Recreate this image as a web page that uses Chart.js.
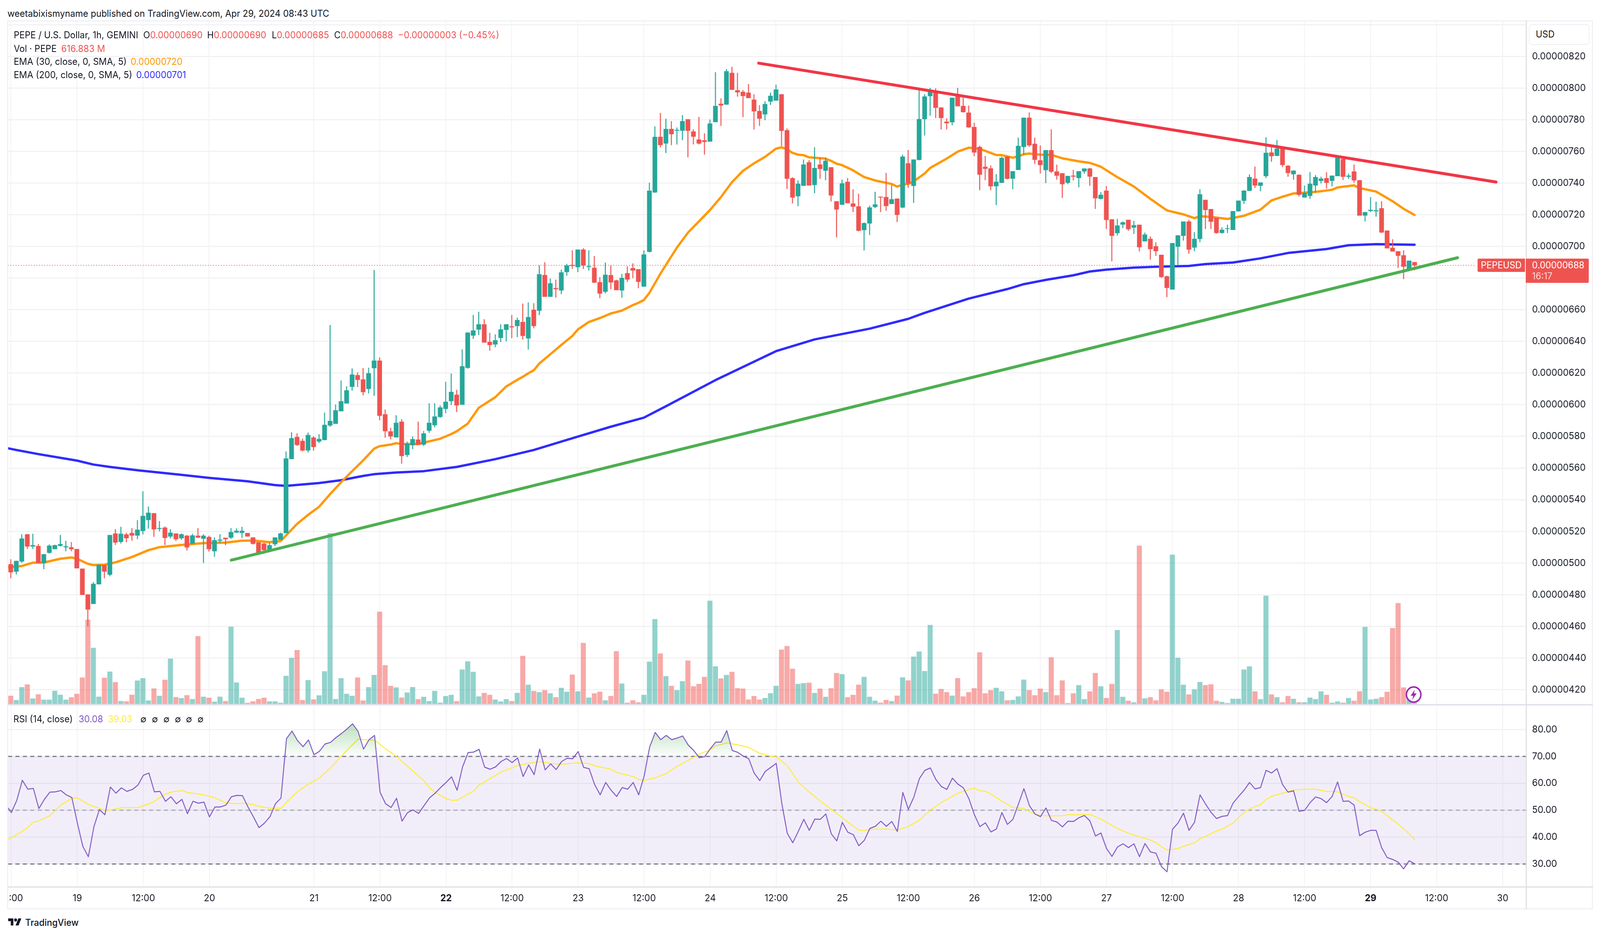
<!DOCTYPE html>
<html>
<head>
<meta charset="utf-8">
<title>PEPE / U.S. Dollar</title>
<script src="https://cdn.jsdelivr.net/npm/chart.js@4/dist/chart.umd.min.js"></script>
<style>
    html, body { margin: 0; padding: 0; background: #fff; overflow: hidden; }
    #stage { position: absolute; left: 0; top: 0; width: 4310px; height: 2396px; overflow: hidden; transform-origin: 0 0;
             font-family: Inter, sans-serif; color: #131722; font-size: 24px; background: #fff; }
    canvas { position: absolute; left: 20px; }
    #price-chart { top: 53px; }
    #rsi-chart { top: 1804px; }
    .txt { position: absolute; white-space: pre; line-height: 34px; }
    .frame { position: absolute; background: #f0f0f6; }
    .red { color: #ef5350; }
    .orange { color: #ff9800; }
    .blue { color: #2e2aff; }
    .purple { color: #7e57c2; }
    .yellow { color: #ffeb3b; }
    .tag { position: absolute; background: #ef5350; color: #fff; }
</style>
</head>
<body>
<div id="stage">
<canvas id="price-chart" width="4271" height="1751"></canvas>
<canvas id="rsi-chart" width="4271" height="522"></canvas>

<div class="frame" style="left:20px;top:52px;width:4271px;height:3px"></div>
<div class="frame" style="left:19px;top:52px;width:3px;height:2275px"></div>
<div class="frame" style="left:4288px;top:52px;width:3px;height:2275px"></div>
<div class="frame" style="left:20px;top:2325px;width:4271px;height:3px"></div>
<div class="frame" style="left:20px;top:1802px;width:4271px;height:4px;background:#e0e3eb"></div>
<div class="frame" style="left:20px;top:2269px;width:4271px;height:3px;background:#e0e0e3"></div>
<div class="frame" style="left:4110px;top:52px;width:3px;height:2275px;background:#e0e0e3"></div>

<div class="txt" style="left:20px;top:18px">weetabixismyname published on TradingView.com, Apr 29, 2024 08:43 UTC</div>
<div class="txt" style="left:37px;top:73px">PEPE / U.S. Dollar, 1h, GEMINI</div>
<div class="txt" style="left:386px;top:73px">O<span class="red">0.00000690</span></div>
<div class="txt" style="left:558px;top:73px">H<span class="red">0.00000690</span></div>
<div class="txt" style="left:732px;top:73px">L<span class="red">0.00000685</span></div>
<div class="txt" style="left:900px;top:73px">C<span class="red">0.00000688</span></div>
<div class="txt red" style="left:1072px;top:73px">−0.00000003 (−0.45%)</div>
<div class="txt" style="left:37px;top:108px">Vol · PEPE</div>
<div class="txt red" style="left:165px;top:108px">616.883 M</div>
<div class="txt" style="left:37px;top:141px">EMA (30, close, 0, SMA, 5)</div>
<div class="txt orange" style="left:352px;top:141px">0.00000720</div>
<div class="txt" style="left:37px;top:175px">EMA (200, close, 0, SMA, 5)</div>
<div class="txt blue" style="left:367px;top:175px">0.00000701</div>

<div style="position:absolute;left:4118px;top:62px;width:160px;height:49px;border:2px solid #eeeef4;border-radius:9px;background:#fff"></div>
<div class="txt" style="left:4137px;top:71px">USD</div>

<div class="tag" style="left:3980px;top:662px;width:128px;height:34px;line-height:34px;text-align:center;border-radius:4px 0 0 4px">PEPEUSD</div>
<div class="tag" style="left:4110px;top:662px;width:170px;height:62px;border-radius:0 4px 4px 0"></div>
<div class="txt" style="left:4127px;top:662px;color:#fff">0.00000688</div>
<div class="txt" style="left:4127px;top:690px;color:#ffd6d5">16:17</div>

<div class="txt" style="left:36px;top:1824px">RSI (14, close)</div>
<div class="txt purple" style="left:212px;top:1824px">30.08</div>
<div class="txt yellow" style="left:291px;top:1824px">39.03</div>
<div class="txt" style="left:378px;top:1824px">∅</div>
<div class="txt" style="left:409px;top:1824px">∅</div>
<div class="txt" style="left:440px;top:1824px">∅</div>
<div class="txt" style="left:471px;top:1824px">∅</div>
<div class="txt" style="left:501px;top:1824px">∅</div>
<div class="txt" style="left:532px;top:1824px">∅</div>

<svg style="position:absolute;left:3786px;top:1756px" width="44" height="44" viewBox="0 0 44 44">
    <circle cx="22" cy="22" r="19.5" fill="#fff" stroke="#9c27b0" stroke-width="4"/>
    <path d="M25 9 L14 25 H21 L18 36 L30 19 H23 Z" fill="#9c27b0"/>
</svg>

<svg style="position:absolute;left:20px;top:2347px" width="40" height="28" viewBox="0 0 36 28">
    <path fill="#131722" d="M14 22H7V11H0V4h14v18zM28 22h-8l7.5-18h8L28 22z"/>
    <circle fill="#131722" cx="20" cy="8" r="4"/>
</svg>
<div class="txt" style="left:68px;top:2345px;font-weight:500">TradingView</div>
</div>

<script>
// Prices are in units of 0.00000001, volumes in billions. First entry is the bar before 18th 12:00.
const firstBar = -1;

const opens = [
    497,499.2,494.6,501,518.1,510.5,510.7,500.1,506.5,508.8,
    510.9,510,509.9,508.8,496.4,480.1,474.2,486.6,498.7,492.7,
    518.6,513.4,518,518.9,517.4,520.3,527.2,531.4,521.6,522.3,
    516.8,518.6,515.7,517.2,512.2,517.2,515.4,516.4,507.5,514.2,
    515.9,516.1,519.3,519.1,518.9,516.1,513,512.2,507.6,511.9,
    514.7,518.9,565.7,579.6,577.1,571.2,579.2,576.8,577.7,586.9,
    588,595.9,600.8,611.3,618.6,615.9,610,623.1,627.8,593.9,
    583.1,579.4,589.2,568.3,574.5,577.9,574.8,583.6,587.1,592.3,
    597.4,602.3,606.2,600,623.3,643.7,647.5,650.7,639.6,638.1,
    642.2,647.3,649.4,649.7,652.2,641.9,659.9,659.4,681.8,668.2,
    673.6,672.2,683.8,688.2,686.9,697.9,687,686.4,677.3,671.4,
    681.8,678.4,672.2,683,686.2,685.5,674.6,696.6,734.1,769.1,
    765,774.1,773.1,773.1,780.2,772.5,767.4,766.9,766.2,778.5,
    790,789.6,809.5,798.5,797.5,797,792.6,785.4,783.4,791.5,
    792.1,796,773.3,743,731.7,738.3,753,738.8,751.6,747.8,
    749.9,728.4,726.3,740.7,727,725.2,710.3,714.5,724.9,731.3,
    731.1,726.8,730.1,724.6,752.4,738.2,754.6,780.4,794.9,797.8,
    787.6,778.7,778.4,794.6,788.6,784.4,775.3,762.7,750.2,749.2,
    738,740.2,756.6,742.8,748.3,762.8,781.2,764.7,754.3,748.2,
    760.7,747.2,746.1,740.2,744.6,743.2,747.4,749.1,743.7,730.1,
    735.1,717,708.4,713.8,716.7,711.9,713.6,703.2,704.7,700,
    694.6,681,672.8,699.8,706.7,715.6,699.3,704.7,729.3,723.5,
    717.9,708.5,711,710.4,722.2,728.8,735.1,742.7,738.3,744.4,
    759.2,757.2,762.2,750.8,745.6,745.1,730.9,731.9,738.5,741.4,
    743,741.4,744.4,755.1,744,747.2,741.7,719.5,722.4,722.2,
    724,709.9,699,696.8,694.3,685.3,690
];
const highs = [
    503,502.3,501.3,518.1,518.1,518.4,511.9,505.5,511.7,511.5,
    517.6,513.9,513.2,508.8,496.4,480.1,487.9,499.2,498.7,517.6,
    521.3,522.8,519.1,522,527,545.2,535.6,531.4,526.4,523,
    521.3,518.6,518.6,517.6,518.4,522,518.1,517.2,516.1,518.1,
    515.9,522,521.8,522.8,518.9,516.1,513,512.7,512.8,516.1,
    519.1,570.4,582.5,581.9,578.5,582.3,580,581.3,594.9,650.2,
    600,615.2,611.5,622.8,620.3,623.1,623.3,685,629.8,596.9,
    585.3,593.3,590.8,576.6,579.9,589.2,583.3,600.8,600.8,599.4,
    614.4,619.6,609.3,634.9,645.5,656.6,658.6,653.9,645.3,644.3,
    650.7,650.7,656.6,654.9,663.8,664.5,664,687.9,689.9,679.6,
    678.9,685.3,688.9,697.4,697.9,698.7,697.4,693.8,680.5,689.7,
    687.9,678.9,682.5,687.4,689.2,685.5,697.4,740.1,775.7,784.2,
    780.5,779,775,782.7,780.2,773.9,781.7,771.3,780,809.9,
    793.4,811.9,813.3,809.5,798.6,802.4,796,789.1,791.6,797,
    802,796,774.4,743.5,741.6,754.8,754.3,762.5,755.9,755.9,
    749.9,728.4,742,743.1,735.9,733.1,715,725.6,734.4,731.3,
    746.3,738.5,730.1,757.8,760.8,754.8,798.9,796,800,799.7,
    787.8,780.7,793.8,800,793.9,788.8,778,763.4,757,751,
    745.5,756.5,756.6,747.4,768.6,781.2,784.5,768.6,763.7,760.7,
    773.8,751.5,746.1,744.4,748.3,747.4,749.1,749.5,743.7,734.2,
    738,717,717.3,715.6,716.7,716,713.6,708.6,706.2,702.5,
    694.6,681.4,702,706.9,715.6,716.7,708.9,736,729.3,723.5,
    717.9,711.9,713.6,722.2,728.8,735.4,745.4,750.3,740.3,768.8,
    762.5,767.1,763,751.3,747.8,745.4,738.3,746.9,744.9,743.9,
    746.7,744.6,756.2,755.9,745.9,751.6,741.7,721.7,731,728.1,
    728.4,709.9,704.4,697,697.5,690.9,690
];
const lows = [
    495,490.4,492.9,500.2,509,508.9,500.1,496.2,506,508.8,
    510.5,507.5,507.5,496.7,479.9,460.2,474.2,486.6,490.4,491.7,
    511.5,512.4,513.2,514.2,515.1,518.1,521.8,516.6,520.1,511.5,
    515.7,514,514.7,508,512.2,515.9,500.1,507.3,504,512.7,
    511.3,515.3,519.1,515.9,516.8,511.7,506.5,506,507.4,510.7,
    514.7,518.9,565.7,574,570.6,569.9,571,575.8,577.6,586.1,
    588,595.9,600.8,609,611.3,606,607.2,605.7,590.2,579.2,
    578.2,579.4,562.8,567,572,574.8,574,582.3,585.8,591.8,
    594.7,599.8,595.4,600,622.8,641.6,644,639.3,634.2,636.4,
    639.6,640.1,642.1,642.7,641.1,634.9,648.3,656.6,668.2,668.2,
    667.7,669.9,681.5,685.9,683.8,685.8,684.8,677.1,667.3,670.4,
    673,672.4,667.7,677.6,680,673.6,674.6,696.2,733.9,762.5,
    759,764,764.4,767.1,756.3,764.4,764.4,758,766.2,778.5,
    776.1,789.4,798.9,794.6,781.7,793.7,773.9,776.1,779.7,789.4,
    792.1,763.3,736.3,727.2,725.5,738.3,738.5,733.6,742.7,741.8,
    728.4,705.7,726.3,727.3,721.7,709.5,697.5,707.2,724.2,721.7,
    722.5,726.8,715.4,724.2,737,727.5,754.4,770.1,782.6,781.1,
    773.9,773.9,776.5,788.5,784.6,775,757,735.5,741.8,735.5,
    726.1,740,742.4,736.1,748.3,758.1,762.9,752.1,746.1,740,
    746.4,742.2,730.7,739.3,741.7,737.3,746,738.3,723.7,729.7,
    711,690.6,706.9,711.6,709.9,707.9,696.8,703.2,691.7,694.1,
    680.2,668,672.8,688,703.7,695.4,697,702.7,711,711,
    708,708.2,708.5,710.4,722,726.9,735,736.9,734.9,743.2,
    753.5,757,750.1,744,742.2,731.5,730.9,730,734.2,739.8,
    736.5,738,744.4,741.9,742.7,740.3,719.5,715.8,721.7,718.8,
    708.5,698.8,696.8,686.4,679.4,685.3,685
];
const closes = [
    499,494.2,501.3,515.4,510.5,511.2,500.1,505.5,510.9,511.2,
    511.9,510.5,508.8,496.7,479.9,470.7,486.8,498.7,494.6,517.6,
    513,518.4,515.7,517.4,521,529.7,531.7,521.3,522,515.9,
    519.1,515.1,518.1,509.9,517.4,516.1,517.2,508.8,514.4,514.7,
    515.1,519.5,520.3,520.3,516.8,512.2,506.5,508.2,511.2,516.1,
    518.6,566,578.8,574.6,571.1,580.8,573.3,578.3,587.2,589.7,
    596.4,602.1,609,619,615.7,608,619.8,627.8,593,583.3,
    580,588.5,567.6,575.4,578.2,574.8,581.8,588.5,592.5,598.2,
    601.8,608,599.6,624.2,645.5,646.8,650.7,639.3,637.7,640.6,
    647.5,650.7,648.9,653.4,643.5,655.3,649.7,682.3,668.2,676.6,
    673,683.5,687.9,687.7,697.9,687.9,687.4,677.1,670.2,682,
    677.3,672.4,680,679.1,684.8,677.6,694.8,735.1,769.1,764,
    774.1,770.9,773.5,779,773,769.3,765,766,777.5,788.6,
    789,810.5,798.9,797.3,795,793.7,785.3,780.7,789.8,795,
    799,773,742.8,730.9,739.5,751.6,738.5,749.4,748.9,754,
    732.2,723.3,739.7,727.3,725.1,709.9,714.6,724.5,726.4,730.9,
    725.5,729.7,719.9,756.6,739.8,754.8,780.3,794.6,798.3,787.5,
    781.1,777.8,793.8,788.5,784.8,775.2,759.3,745.3,749,738,
    740.7,755.8,742.7,747.4,763.4,781.2,763.8,754.7,751.4,760.7,
    747.2,744.7,739.3,744.4,744.1,747.4,749.1,744.1,730.4,732.5,
    716.7,706.7,713.1,715.1,710.9,713.3,699.5,707.4,698.3,697,
    680.7,673.8,702,706.9,715.6,698,704.7,732.8,723,715.6,
    708.5,710.4,711.3,722.2,728.8,735.1,743.7,738.5,740.3,759,
    757,761.7,751.4,746.4,747.8,732.6,733.6,739.5,743.7,742.7,
    740.2,744.6,756,744,744.6,741.7,719.5,721.5,723,722.7,
    708.8,698.8,696.8,694.1,687.2,690.9,688
];
const volumes = [
    9,6.2,2.9,12.8,14.9,4.1,7.3,3.2,3.2,10,
    7,3.2,5,7.7,20.2,64.6,43,5.5,20,24.8,
    16.7,2.2,1.9,7,17.9,19.7,2.6,11.8,6.2,18.5,
    34.7,5.2,4.4,6.7,3.7,52,5.5,4.7,1.7,5.5,
    2.2,59.2,16.4,4.7,0.8,1.9,3.7,4.7,1.9,1.9,
    0.8,21.5,35.3,41.3,2.9,18.2,3.4,6.5,25,131,
    3.7,19.7,7.7,6.2,20.2,2.6,12.8,22.2,70.8,29.7,
    13.8,12.6,4.8,8.7,12.9,3.6,5.4,2.1,9.9,0.9,
    6,6.9,2.1,26.4,32.7,24.6,5.7,8.4,6.9,3.3,
    1.8,3.6,2.1,8.4,36.9,14.7,9.9,9,10.5,8.1,
    5.1,12.3,9.3,22.5,9.6,46.8,4.8,8.1,9.3,2.7,
    6,40.5,15.6,0.9,2.7,1.2,6.9,32.4,65.1,38.7,
    21.3,13.8,10.5,17.4,33.3,13.5,15.3,20.7,79.2,28.8,
    19.5,22.2,24.6,12,11.7,3.3,6,3.3,4.5,8.1,
    13.8,41.7,44.4,27,15.3,15.9,16.2,8.4,11.7,5.4,
    12,23.7,22.8,5.1,6.9,14.7,20.7,5.4,2.4,0.9,
    3,2.1,6.3,20.4,18,36.3,40.2,25.2,60.6,7.8,
    11.4,9,6.3,19.8,5.7,9,12,39.6,8.1,10.5,
    12.3,9.6,2.7,3,5.7,18.6,10.5,6.6,11.7,9,
    35.7,6.6,18,0.6,8.1,14.4,3.6,9.6,23.7,13.5,
    4.5,15.3,56.7,5.4,2.4,1.2,121.5,4.2,5.1,2.7,
    11.1,9.3,114.6,35.4,14.7,7.2,11.1,16.8,14.4,15,
    2.4,1.5,0.6,3.9,3.9,26.4,28.8,9.6,3.6,83.1,
    7.2,5.1,1.2,6,3.9,1.2,1.2,4.8,3.6,9.6,
    6.9,0.9,1.8,0.9,4.5,2.4,9.6,59.1,3.3,3.9,
    5.1,9.3,58.2,77.4,12.6,3.6,0.617
];
const rsi = [
    52,49.1,53.7,61.1,57.8,58.1,50.6,54,56.7,56.8,
    57.3,55.7,54.7,45.2,36.5,32.7,43.8,50.2,48.3,58.6,
    56.3,58.3,57,57.7,59.3,63,63.8,56.8,57,53.3,
    55,52.4,54,48.7,53.3,52.6,53,47.5,51.2,51.2,
    51.9,55,55.5,55.4,51.2,47.5,43.5,45.2,47.6,52.4,
    54.5,76.6,79.4,75.9,73.6,76.1,70.6,71.9,74.6,75.2,
    77,78.5,80.2,82.1,79.3,72.7,76.2,77.8,56.7,52.4,
    51,54.4,45.9,49.1,50.1,48.8,51.7,54.6,56.3,58.4,
    60.3,62.4,57.4,66.1,71.4,71.6,72.6,66,65.2,66.1,
    68.1,69.2,67.7,69.4,62.5,66.8,63.2,72.7,65,67.2,
    65.1,68.1,69.3,69.1,71.8,65.9,65.4,59.5,55.7,60.3,
    57.4,55.1,58.4,57.8,60.3,55.7,62.8,73.5,78.9,76.2,
    77.8,76.2,76.8,77.6,74.2,72.2,69.5,69.9,72.8,75.3,
    75.3,79.6,72.2,71.5,70.1,69.1,63.7,61,64.4,65.9,
    67.4,52.6,41.4,37.9,42.1,46.6,42.5,46.7,46.6,48.6,
    41.2,38.6,45.5,41.8,40.9,36.8,38.8,43.2,44,45.9,
    44,45.8,42.1,56.6,50.3,54.9,61.7,64.8,65.7,61.4,
    58.8,57.7,61.9,59.7,58.3,54.3,48.3,43.9,45.3,41.9,
    43,49.1,44.7,46.6,52.3,58,51.7,48.6,47.6,50.8,
    46.2,45.6,43.8,45.9,45.8,47.2,48,46,40.4,41.5,
    35.8,32.8,36.3,37.5,36.1,37.5,32.7,37.6,34.5,34,
    29,27.1,42.9,45.2,48.9,42.5,45.5,55.7,52.3,49.2,
    46.9,47.7,48,52.6,55.1,57.4,60.3,57.9,58.4,64.8,
    63.8,65.4,59.5,56.7,57.2,49.6,49.9,52.8,54.9,54.3,
    52.8,55.1,60.5,53.3,53.4,51.9,40.5,41.8,42.5,42.5,
    36.1,32.4,31.7,30.7,28.2,31.2,30.08
];

// Averages were read at their turning points, each bar list goes with the values below it
const ema30Bars = [-1,2,4,6,9,11,12,14,15,17,19,22,25,27,31,35,39,42,44,47,49,50,52,54,56,58,60,62,64,66,67,69,70,71,74,75,78,80,81,83,85,88,90,92,93,94,95,96,97,100,102,103,105,107,109,111,113,114,115,116,118,121,123,127,129,131,133,135,137,139,140,141,142,143,144,145,148,149,150,151,153,155,157,160,161,162,163,164,166,167,170,172,174,176,177,179,180,182,183,184,185,187,189,191,194,196,198,201,204,207,210,213,215,216,218,221,224,227,229,231,233,237,240,241,244,245,248,251,253,255];
const ema30 = [497.1,498.1,500.2,500.3,502.7,503.5,502.7,499.5,498.7,498.9,500.4,503.8,508.1,510,511.4,512.6,512.9,514.1,514.2,513.2,513.8,517.4,524.7,530.4,535.5,543.5,551,558,564.8,572.2,573.8,574.8,575.7,575.1,575.1,576,578.5,581.4,583.2,588,598,604.7,611.5,615.7,617.6,619.8,621.7,626,628.9,637.7,643.4,647.5,652.2,654.7,657.6,659.4,662.9,664.3,666.1,670.6,682.7,699.2,708.6,722.9,731.1,740.5,747.7,752.4,756.5,761.7,762.5,761.4,759,757.9,757.6,756.2,755.4,754,752.2,751.3,748,743.8,741.6,739.4,737.7,739,739.4,741,746,749.5,755.4,759.8,762.3,761.6,760.3,757.7,757.6,756,756.8,758.2,758.6,757.9,757.8,755.6,753.7,752.7,750.3,743.7,737.8,730,722.7,720.2,717.8,719,718.6,717.3,719.3,723.2,729,731.3,733.4,734.4,735.7,737.2,738.5,736.8,734.6,728.5,723.7,719.8];

const ema200Bars = [-1,1,5,12,15,18,23,31,36,43,48,50,56,60,64,66,70,75,81,88,95,102,109,115,119,128,139,146,156,163,166,174,181,184,188,193,196,199,204,208,214,217,222,227,232,239,243,248,255];
const ema200 = [572.8,571.4,568.8,564.7,562.2,560.7,558.6,555.7,553.8,551.6,549.2,548.7,550.5,552.3,555,556.1,557.2,558,560.7,565.6,571.4,578.8,586.1,591.8,599,615.5,633.8,641.2,648,654.2,658,667,673,676.1,678.8,681.7,684.1,685.3,686.6,687.1,687.6,688.8,689.8,692.4,695.8,698.3,700.7,701.4,701];

const rsiMaBars = [-1,1,3,4,5,7,9,11,12,14,17,18,20,23,25,26,28,29,31,32,35,37,39,41,42,44,45,47,49,50,52,54,56,58,60,63,65,66,68,70,73,75,76,77,79,80,81,84,85,87,89,92,94,96,98,100,103,105,106,109,110,113,114,115,117,119,121,123,125,127,128,130,132,134,136,138,139,141,143,144,145,147,149,151,153,154,155,156,159,161,163,165,167,169,172,174,175,176,177,178,180,182,184,185,186,187,189,191,192,194,196,198,199,201,203,205,207,208,209,210,212,213,215,216,218,219,220,222,223,224,225,226,227,228,229,231,233,235,237,239,241,243,244,245,247,248,249,251,252,254,255];
const rsiMa = [38.7,40.9,43.5,45.6,46,47.9,51.9,54.4,54.6,52.1,50,50.1,50.9,51,52.3,53.3,56,56.7,57.3,56.6,55.7,54.6,52.7,52.4,52.6,52.1,51.4,50.7,50.7,52.9,56.9,59.7,62,65.7,70.2,76.4,76,76.1,72.8,69.9,64.5,60.9,58.3,56.7,54.3,53.7,53.7,57.1,59.4,61.7,64.2,66.6,67.4,68.1,67.4,67.1,67.6,67.3,66.5,65.2,64,62.5,61.4,61.1,62,63.6,66.3,68.5,70.8,72.5,73.9,75,74.3,73.3,71.1,70.1,69.8,66.5,60.5,58.6,56.7,53.4,50.3,47.2,44,42.6,42.4,42.9,43,42.6,43.9,46.3,50,52.9,56.3,57.7,58.2,57.2,57,56,53.4,51,50.6,49.5,48.5,48,47.9,47.9,48.3,48.3,48.4,46.7,45.5,43.2,41.4,40.1,38.9,37.9,36.4,35.2,35.7,36.6,37.9,39.4,41.2,42.3,42.9,45.2,47.2,49.2,50.4,51.4,52.1,54,55.1,56.3,57.5,57.8,57.8,57,56.8,55.1,54.6,53.2,50.9,50.4,49.5,46.4,44.9,41.2,39.03];

// Trend lines drawn on the chart, start and end only
const redTrendBars = [135.85, 269.8];
const redTrend = [815.7, 740.6];
const greenTrendBars = [40.05, 262.8];
const greenTrend = [501.8, 692.8];

const lastPrice = 688;
const lastPriceBars = [-1, 266];

const tickBars = [0,12,24,36,55,67,79,91,103,115,127,139,151,163,175,187,199,211,223,235,247,259,271];
const tickLabels = ['12:00','19','12:00','20','21','12:00','22','12:00','23','12:00','24','12:00','25','12:00','26','12:00','27','12:00','28','12:00','29','12:00','30'];
const boldLabels = ['22','29'];
const priceTicks = [420,440,460,480,500,520,540,560,580,600,620,640,660,680,700,720,740,760,780,800,820,840];
const rsiTicks = [30,40,50,60,70,80];

const upColor = '#26a69a';
const downColor = '#ef5350';
const upVolColor = 'rgba(38,166,154,0.5)';
const downVolColor = 'rgba(239,83,80,0.5)';
const gridColor = '#f2f2f4';
const textColor = '#131722';
const fontFamily = 'Inter, sans-serif';

const xMin = -0.607, xMax = 275.26;
const barIndex = opens.map((_, n) => n + firstBar);
const isUp = opens.map((o, n) => closes[n] >= o);

// The window can open narrower than the 4310px layout, squeeze the stage sideways so nothing is cut off
document.getElementById('stage').style.transform = 'scaleX(' + (window.innerWidth / 4310) + ')';

function zip(xs, ys) {
    return xs.map((x, n) => ({ x: x, y: ys[n] }));
}

function lineSet(xs, ys, color, width, order, extra) {
    return Object.assign({
        type: 'line',
        data: zip(xs, ys),
        borderColor: color,
        borderWidth: width,
        pointRadius: 0,
        tension: 0,
        fill: false,
        borderCapStyle: 'round',
        borderJoinStyle: 'round',
        order: order
    }, extra || {});
}

function noPadding(s) {
    s.paddingLeft = 0;
    s.paddingRight = 0;
    s.paddingTop = 0;
    s.paddingBottom = 0;
}

function xScale(showLabels) {
    return {
        type: 'linear',
        min: xMin,
        max: xMax,
        offset: false,
        afterBuildTicks: s => { s.ticks = tickBars.map(v => ({ value: v })); },
        afterFit: s => {
            s.height = showLabels ? 56 : 0;
            noPadding(s);
        },
        grid: { color: gridColor, lineWidth: 2, drawTicks: false, offset: false },
        border: { display: false },
        ticks: {
            display: showLabels,
            autoSkip: false,
            maxRotation: 0,
            padding: 15,
            color: textColor,
            callback: (v, i) => tickLabels[i],
            font: c => ({
                family: fontFamily,
                size: 24.5,
                weight: boldLabels.includes(tickLabels[c.index]) ? 'bold' : 'normal'
            })
        }
    };
}

function yScale(min, max, values, format) {
    return {
        position: 'right',
        min: min,
        max: max,
        afterBuildTicks: s => { s.ticks = values.map(v => ({ value: v })); },
        afterFit: s => {
            s.width = 180;
            noPadding(s);
        },
        grid: { color: gridColor, lineWidth: 3, drawTicks: false },
        border: { display: false },
        ticks: {
            autoSkip: false,
            padding: 16,
            color: textColor,
            font: { family: fontFamily, size: 24.5 },
            callback: format
        }
    };
}

new Chart(document.getElementById('price-chart').getContext('2d'), {
    data: {
        datasets: [
            lineSet(greenTrendBars, greenTrend, '#4caf50', 7.5, 0),
            lineSet(redTrendBars, redTrend, '#f23645', 7.5, 0),
            {
                type: 'bar',
                data: barIndex.map((x, n) => ({ x: x, y: [opens[n], closes[n]] })),
                backgroundColor: isUp.map(u => u ? upColor : downColor),
                barThickness: 12,
                grouped: false,
                order: 1
            },
            {
                type: 'bar',
                data: barIndex.map((x, n) => ({ x: x, y: [lows[n], highs[n]] })),
                backgroundColor: isUp.map(u => u ? upColor : downColor),
                barThickness: 2,
                grouped: false,
                order: 2
            },
            lineSet(ema30Bars, ema30, '#ff9800', 6, 3),
            lineSet(ema200Bars, ema200, '#2e2aff', 6, 4),
            lineSet(lastPriceBars, [lastPrice, lastPrice], downColor, 2, 5, { borderDash: [2, 5], borderCapStyle: 'butt' }),
            {
                type: 'bar',
                yAxisID: 'vol',
                data: barIndex.map((x, n) => ({ x: x, y: volumes[n] })),
                backgroundColor: isUp.map(u => u ? upVolColor : downVolColor),
                barThickness: 13,
                grouped: false,
                order: 6
            }
        ]
    },
    options: {
        responsive: false,
        animation: false,
        devicePixelRatio: 1,
        events: [],
        layout: { padding: 0 },
        plugins: { legend: { display: false }, tooltip: { enabled: false } },
        scales: {
            x: xScale(false),
            y: yScale(410.5, 842.5, priceTicks, v => v > 820 ? '' : (v / 1e8).toFixed(8)),
            vol: { display: false, min: -0.6, max: 524.7 }
        }
    }
});

const rsiChart = new Chart(document.getElementById('rsi-chart').getContext('2d'), {
    data: {
        datasets: [
            lineSet(barIndex, rsi, '#7e57c2', 2.5, 0, {
                fill: { target: { value: 70 }, above: 'rgba(76,175,80,0.25)', below: 'rgba(0,0,0,0)' }
            }),
            lineSet(rsiMaBars, rsiMa, '#ffeb3b', 2.5, 1),
            lineSet([xMin, xMax], [50, 50], 'rgba(120,123,134,0.55)', 3, 2, { borderDash: [11, 9], borderCapStyle: 'butt' }),
            lineSet([xMin, xMax], [70, 70], '#787b86', 3, 3, {
                borderDash: [11, 9],
                borderCapStyle: 'butt',
                fill: '+1',
                backgroundColor: 'rgba(126,87,194,0.1)'
            }),
            lineSet([xMin, xMax], [30, 30], '#787b86', 3, 4, { borderDash: [11, 9], borderCapStyle: 'butt' })
        ]
    },
    options: {
        responsive: false,
        animation: false,
        devicePixelRatio: 1,
        events: [],
        layout: { padding: 0 },
        plugins: { legend: { display: false }, tooltip: { enabled: false } },
        scales: {
            x: xScale(true),
            y: yScale(21.53, 88.97, rsiTicks, v => v.toFixed(2))
        }
    }
});

// Overbought shading fades out towards the 70 line
const rsiScale = rsiChart.scales.y;
const overbought = rsiChart.ctx.createLinearGradient(0, rsiScale.getPixelForValue(82), 0, rsiScale.getPixelForValue(70));
overbought.addColorStop(0, 'rgba(76,175,80,0.38)');
overbought.addColorStop(1, 'rgba(76,175,80,0.02)');
rsiChart.data.datasets[0].fill.above = overbought;
rsiChart.update();
</script>
</body>
</html>
